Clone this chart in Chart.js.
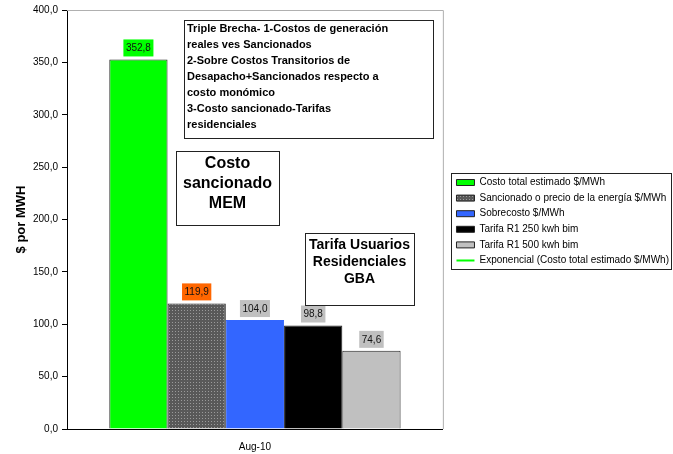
<!DOCTYPE html>
<html>
<head>
<meta charset="utf-8">
<script src="https://cdn.jsdelivr.net/npm/chart.js@4.4.1/dist/chart.umd.min.js"></script>
<style>
  html, body { margin: 0; padding: 0; background: #fff; }
  #wrap { width: 673px; height: 454px; }
</style>
</head>
<body>
<div id="wrap"><canvas id="brecha" width="673" height="454"></canvas></div>
<script>
const categories = ['Aug-10'];
const seriesNames = [
  'Costo total estimado $/MWh',
  'Sancionado o precio de la energía $/MWh',
  'Sobrecosto $/MWh',
  'Tarifa R1 250 kwh bim',
  'Tarifa R1 500 kwh bim'
];
const seriesValues = [352.8, 119.9, 104.0, 98.8, 74.6];
const trendName = 'Exponencial (Costo total estimado $/MWh)';
const trendValues = [352.8];
const yTicks = [0, 50, 100, 150, 200, 250, 300, 350, 400];

const noteBig = [
  'Triple Brecha- 1-Costos de generación',
  'reales ves Sancionados',
  '2-Sobre Costos Transitorios de',
  'Desapacho+Sancionados respecto a',
  'costo monómico',
  '3-Costo sancionado-Tarifas',
  'residenciales'
];
const noteMem = ['Costo', 'sancionado', 'MEM'];
const noteGba = ['Tarifa Usuarios', 'Residenciales', 'GBA'];

const FONT = 'Arial, "Liberation Sans", sans-serif';

const canvas = document.getElementById('brecha');
const ctx = canvas.getContext('2d');

// dotted dark gray fill for the "Sancionado" bar
const tile = document.createElement('canvas');
tile.width = 3; tile.height = 3;
const tg = tile.getContext('2d');
tg.fillStyle = '#595959'; tg.fillRect(0, 0, 3, 3);
tg.fillStyle = '#9a9a9a'; tg.fillRect(1, 1, 1, 1);
const dots = ctx.createPattern(tile, 'repeat');

const barColors = ['#00ff00', dots, '#3366ff', '#000000', '#c0c0c0'];
const labelBg = ['#00ff00', '#ff6600', '#c0c0c0', '#c0c0c0', '#c0c0c0'];

const datasets = seriesNames.map((name, i) => ({
  type: 'bar',
  label: name,
  data: [seriesValues[i]],
  backgroundColor: barColors[i],
  borderColor: i === 2 ? '#3366ff' : '#222',
  borderWidth: 1,
  categoryPercentage: 0.775,
  barPercentage: 1
}));
datasets.push({
  type: 'line',
  label: trendName,
  data: trendValues,
  borderColor: '#00ff00',
  borderWidth: 2,
  pointRadius: 0,
  fill: false
});

const fmt = v => v.toFixed(1).replace('.', ',');

// nudge the legend a bit right and up, like the original
const legendNudge = {
  id: 'legendNudge',
  afterLayout(chart) {
    const lg = chart.legend;
    lg.left += 8; lg.right += 8;
    lg.top -= 9; lg.bottom -= 9;
  }
};

const decorations = {
  id: 'decorations',
  afterDatasetsDraw(chart) {
    const c = chart.ctx;
    const a = chart.chartArea;
    c.save();
    // gray top/right border of plot area
    c.strokeStyle = '#b0b0b0';
    c.lineWidth = 1;
    c.beginPath();
    c.moveTo(a.left, a.top + 0.5);
    c.lineTo(a.right + 0.5, a.top + 0.5);
    c.lineTo(a.right + 0.5, a.bottom);
    c.stroke();

    // value labels
    c.font = '10px ' + FONT;
    c.textAlign = 'center';
    c.textBaseline = 'middle';
    seriesValues.forEach((v, i) => {
      const el = chart.getDatasetMeta(i).data[0];
      const txt = fmt(v);
      const w = c.measureText(txt).width + 5;
      const h = 17;
      const bx = el.x - w / 2;
      const by = el.y - 3 - h;
      c.fillStyle = labelBg[i];
      c.fillRect(bx, by, w, h);
      c.fillStyle = '#111';
      c.fillText(txt, el.x, by + h / 2 + 0.5);
    });

    // text boxes
    const box = (x, y, w, h) => {
      c.fillStyle = '#fff';
      c.fillRect(x, y, w, h);
      c.strokeStyle = '#222';
      c.lineWidth = 1;
      c.strokeRect(x + 0.5, y + 0.5, w, h);
    };
    box(184, 20, 249, 118);
    c.fillStyle = '#000';
    c.font = 'bold 11px ' + FONT;
    c.textAlign = 'left';
    noteBig.forEach((t, k) => c.fillText(t, 187, 29 + k * 16));

    box(176, 151, 103, 74);
    c.font = 'bold 16px ' + FONT;
    c.textAlign = 'center';
    c.fillStyle = '#000';
    noteMem.forEach((t, k) => c.fillText(t, 227.5, 164 + k * 20));

    box(305, 233, 109, 72);
    c.font = 'bold 14px ' + FONT;
    c.fillStyle = '#000';
    noteGba.forEach((t, k) => c.fillText(t, 359.5, 245 + k * 17));

    c.restore();
  },
  afterDraw(chart) {
    const lg = chart.legend;
    if (!lg || !lg.legendHitBoxes.length) return;
    const hb = lg.legendHitBoxes;
    let x0 = Infinity, y0 = Infinity, x1 = -Infinity, y1 = -Infinity;
    hb.forEach(b => {
      x0 = Math.min(x0, b.left); y0 = Math.min(y0, b.top);
      x1 = Math.max(x1, b.left + b.width); y1 = Math.max(y1, b.top + b.height);
    });
    const c = chart.ctx;
    c.save();
    c.strokeStyle = '#222';
    c.lineWidth = 1;
    c.strokeRect(Math.round(x0 - 5) + 0.5, Math.round(y0 - 5) + 0.5, Math.min(Math.round(x1 - x0 + 9), 671 - Math.round(x0 - 5)), Math.round(y1 - y0 + 8));
    c.restore();
  }
};

new Chart(canvas, {
  data: {
    labels: categories,
    datasets: datasets
  },
  options: {
    responsive: false,
    animation: false,
    layout: { padding: { left: 5, top: 7, right: 2, bottom: 0 } },
    plugins: {
      tooltip: { enabled: false },
      legend: {
        position: 'right',
        maxWidth: 240,
        labels: {
          usePointStyle: true,
          pointStyleWidth: 18,
          boxHeight: 6,
          padding: 5.6,
          color: '#000',
          font: { family: FONT, size: 10 },
          generateLabels(chart) {
            const items = Chart.defaults.plugins.legend.labels.generateLabels(chart);
            items.forEach(it => {
              const ds = chart.data.datasets[it.datasetIndex];
              if (ds.type === 'line') {
                it.pointStyle = 'line';
                it.strokeStyle = '#00ff00';
                it.lineWidth = 2;
              } else {
                it.pointStyle = 'rect';
                it.strokeStyle = '#222';
                it.lineWidth = 1;
              }
            });
            return items;
          }
        }
      }
    },
    scales: {
      x: {
        grid: { display: false, drawTicks: false },
        border: { color: '#000', width: 1 },
        ticks: { color: '#000', font: { family: FONT, size: 10 }, padding: 12 },
        afterFit(scale) { scale.height = 25; }
      },
      y: {
        min: 0,
        max: 400,
        afterBuildTicks(scale) { scale.ticks = yTicks.map(v => ({ value: v })); },
        afterFit(scale) { scale.width = 62; },
        grid: { drawOnChartArea: false, drawTicks: true, tickLength: 5, color: '#000' },
        border: { color: '#000', width: 1 },
        ticks: {
          color: '#000',
          font: { family: FONT, size: 10 },
          padding: 4,
          callback: v => fmt(v)
        },
        title: {
          display: true,
          text: '$ por MWH',
          color: '#000',
          font: { family: FONT, size: 13, weight: 'bold' },
          padding: { top: 9, bottom: 0 }
        }
      }
    }
  },
  plugins: [legendNudge, decorations]
});
</script>
</body>
</html>
